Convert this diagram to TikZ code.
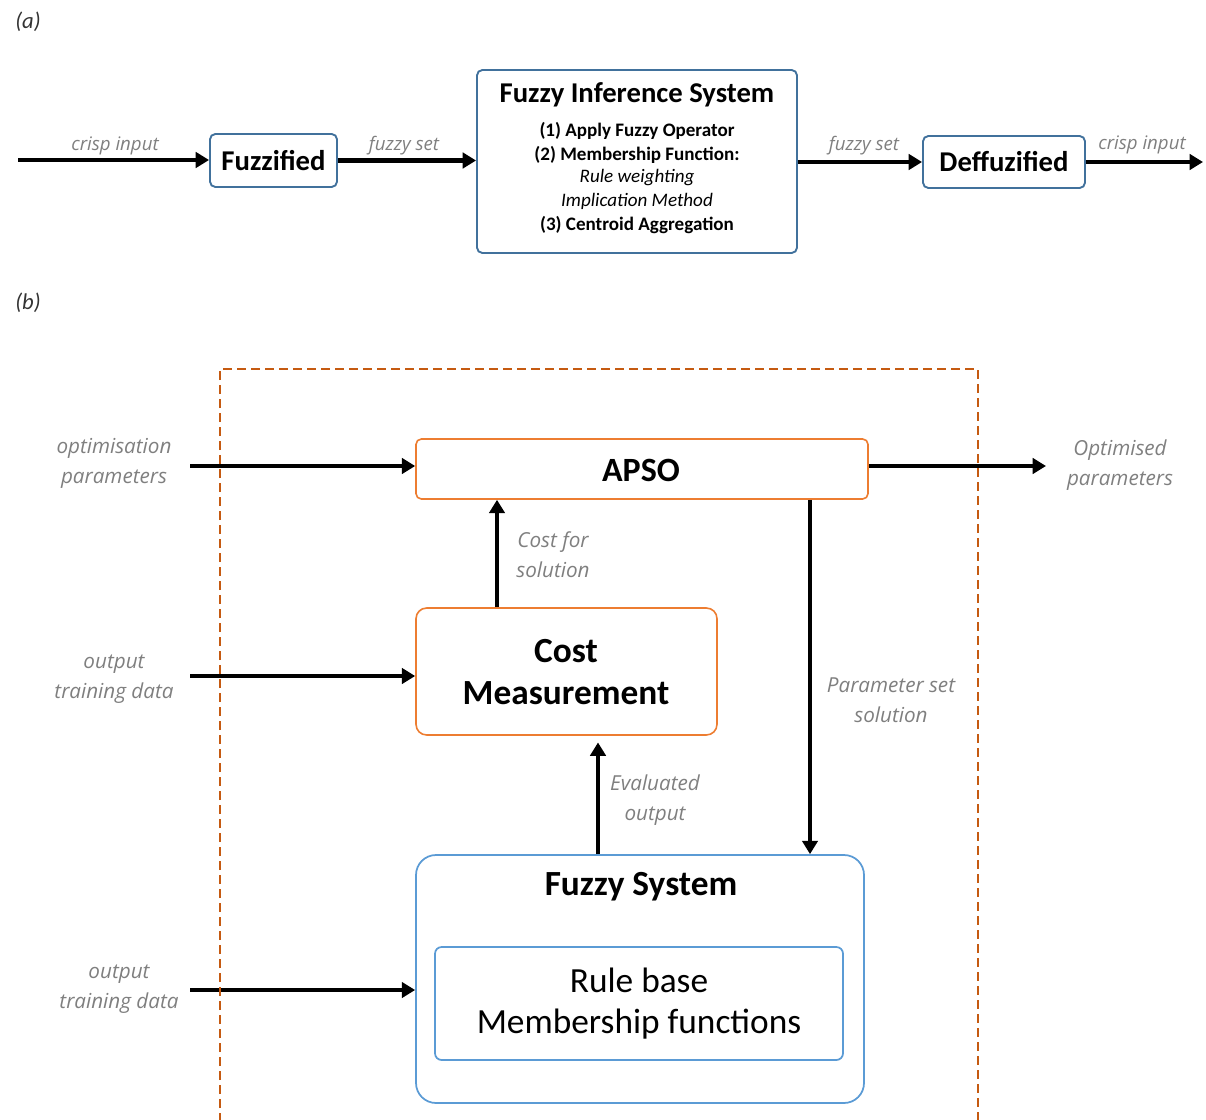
\documentclass[tikz,border=0pt]{standalone}
\usepackage{fontspec}
\setmainfont{Carlito}
\newfontfamily\labfont{Open Sans}
\usetikzlibrary{arrows.meta}
\definecolor{boxblue}{HTML}{41719C}
\definecolor{lightblue}{HTML}{5B9BD5}
\definecolor{boxorange}{HTML}{ED7D31}
\definecolor{dashorange}{HTML}{C55A11}
\definecolor{labgray}{HTML}{7F7F7F}
\tikzset{
  arr/.style={line width=3.7pt,-{Triangle[length=10pt,width=11.5pt]}},
  bluebox/.style={draw=boxblue,line width=1.4pt,rounded corners=4pt,fill=white,inner sep=0pt},
  orangebox/.style={draw=boxorange,line width=1.2pt,fill=white,inner sep=0pt},
  fsbox/.style={draw=lightblue,line width=1.3pt,fill=white,inner sep=0pt},
  lab/.style={text=labgray,font=\labfont\itshape\fontsize{14}{17}\selectfont,inner sep=0pt},
  labb/.style={text=labgray,font=\labfont\itshape\fontsize{15.5}{22.5}\selectfont,align=center,inner sep=0pt},
  part/.style={text=black!80,font=\itshape\fontsize{17}{20}\selectfont,inner sep=0pt},
  bigbold/.style={font=\bfseries\fontsize{21.5}{25}\selectfont,inner sep=0pt},
  smallbold/.style={font=\bfseries\fontsize{14.3}{16}\selectfont,inner sep=0pt},
  smallit/.style={font=\itshape\fontsize{14.3}{16}\selectfont,inner sep=0pt},
}
\begin{document}
\begin{tikzpicture}[x=0.75pt,y=-0.75pt]
\useasboundingbox (0,0) rectangle (1206,1120);

% ---------------- (a) fuzzy inference chain ----------------
\node[part] (pa) at (28,22) {(a)};

\coordinate (ain) at (18,160);
\node[bluebox,minimum width=127*0.75pt,minimum height=53*0.75pt] (fuzz) at (273.5,160.5) {};
\node[bigbold] (fuzzt) at (fuzz.center) {Fuzzified};

\node[bluebox,minimum width=320*0.75pt,minimum height=183*0.75pt] (fis) at (637,161.5) {};
\node[bigbold] (fist) at (637,95) {Fuzzy Inference System};
\node[smallbold] (fis1) at (637,131) {(1) Apply Fuzzy Operator};
\node[smallbold] (fis2) at (637,155) {(2) Membership Function:};
\node[smallit] (fis3) at (637,178) {Rule weighting};
\node[smallit] (fis4) at (637,201) {Implication Method};
\node[smallbold] (fis5) at (637,225) {(3) Centroid Aggregation};

\node[bluebox,minimum width=162*0.75pt,minimum height=52*0.75pt] (defz) at (1004,162) {};
\node[bigbold] (defzt) at (defz.center) {Deffuzified};
\coordinate (aout) at (1203,162);

\draw[arr] (ain) -- (ain -| fuzz.west);
\draw[arr] (fuzz.east) -- (fuzz.east -| fis.west);
\draw[arr] (fis.east |- defz.west) -- (defz.west);
\draw[arr] (defz.east) -- (aout);

\node[lab] (l1) at (115,146) {crisp input};
\node[lab] (l2) at (404,146) {fuzzy set};
\node[lab] (l3) at (864,146) {fuzzy set};
\node[lab] (l4) at (1142,145) {crisp input};

% ---------------- (b) APSO tuning loop ----------------
\node[part] (pb) at (28,303) {(b)};

\node[orangebox,rounded corners=4pt,minimum width=452*0.75pt,minimum height=60*0.75pt] (apso) at (642,469) {};
\node[font=\bfseries\fontsize{25.5}{30}\selectfont,inner sep=0pt] (apsot) at (641,470) {APSO};

\node[orangebox,rounded corners=8pt,minimum width=301*0.75pt,minimum height=127*0.75pt] (cost) at (566.5,671.5) {};
\node[font=\bfseries\fontsize{26.5}{31}\selectfont,align=center,inner sep=0pt] (costt) at (566,672) {Cost\\Measurement};

\node[fsbox,rounded corners=15pt,minimum width=448*0.75pt,minimum height=248*0.75pt] (fs) at (640,979) {};
\node[font=\bfseries\fontsize{26.5}{30}\selectfont,inner sep=0pt] (fst) at (641,887) {Fuzzy System};
\node[fsbox,rounded corners=5pt,minimum width=408*0.75pt,minimum height=113*0.75pt,
      font=\fontsize{26.5}{31}\selectfont,align=center] (rb) at (639,1003.5) {Rule base\\Membership functions};

\coordinate (in1) at (190,466);
\coordinate (in2) at (190,676);
\coordinate (in3) at (190,990);
\coordinate (out1) at (1046,466);
\coordinate (xc) at (497,0);
\coordinate (xe) at (598,0);
\coordinate (xp) at (810,0);

\draw[arr] (in1) -- (in1 -| apso.west);
\draw[arr] (in2) -- (in2 -| cost.west);
\draw[arr] (in3) -- (in3 -| fs.west);
\draw[arr] (apso.east |- out1) -- (out1);
\draw[arr] (cost.north -| xc) -- (apso.south -| xc);
\draw[arr,shorten >=5pt] (fs.north -| xe) -- (cost.south -| xe);
\draw[arr] (apso.south -| xp) -- (fs.north -| xp);

% dashed optimisation frame, open at the bottom edge
\draw[dashorange,line width=1.2pt,dash pattern=on 7pt off 3.5pt]
  (220,1122) -- (220,369) -- (978,369) -- (978,1122);

\node[labb] (lb1) at (114,463) {optimisation\\parameters};
\node[labb] (lb2) at (1120,465) {Optimised\\parameters};
\node[labb] (lb3) at (553,555) {Cost for\\solution};
\node[labb] (lb4) at (114,679) {output\\training data};
\node[labb] (lb5) at (891,700) {Parameter set\\solution};
\node[labb] (lb6) at (655,800) {Evaluated\\output};
\node[labb] (lb7) at (119,989) {output\\training data};
\end{tikzpicture}
\end{document}
